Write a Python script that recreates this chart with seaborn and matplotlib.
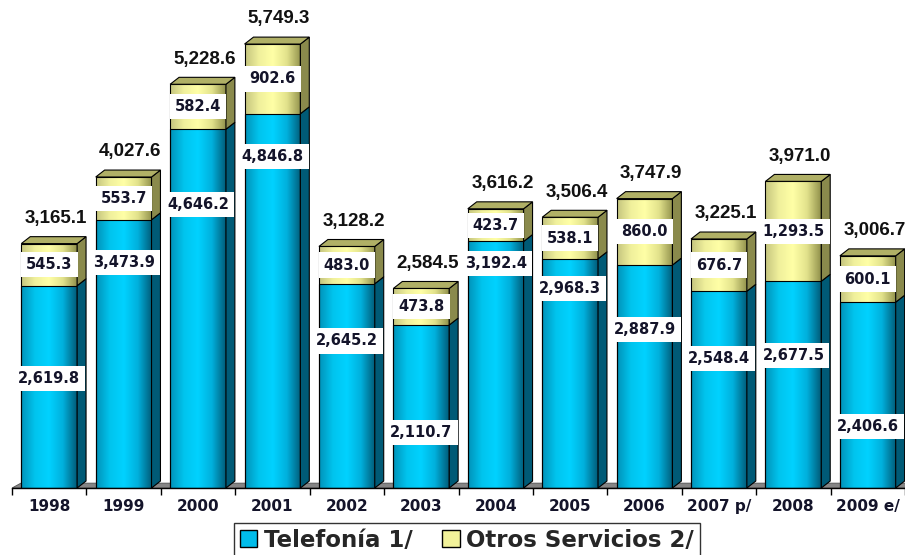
import matplotlib.pyplot as plt
import numpy as np
import pandas as pd
import seaborn as sns
from matplotlib.patches import Polygon, Patch
from matplotlib.colors import LinearSegmentedColormap

years = ['1998', '1999', '2000', '2001', '2002', '2003', '2004', '2005',
         '2006', '2007 p/', '2008', '2009 e/']
telefonia = [2619.8, 3473.9, 4646.2, 4846.8, 2645.2, 2110.7, 3192.4, 2968.3,
             2887.9, 2548.4, 2677.5, 2406.6]
otros = [545.3, 553.7, 582.4, 902.6, 483.0, 473.8, 423.7, 538.1,
         860.0, 676.7, 1293.5, 600.1]
totales = [3165.1, 4027.6, 5228.6, 5749.3, 3128.2, 2584.5, 3616.2, 3506.4,
           3747.9, 3225.1, 3971.0, 3006.7]
# height of the Telefonía label, as share of its segment (placed by hand in the original)
tele_label_pos = [0.54, 0.84, 0.79, 0.885, 0.72, 0.34, 0.91, 0.87, 0.71, 0.66, 0.64, 0.33]

sns.set_style("white")
plt.rcParams['font.family'] = ['DejaVu Sans']

df = pd.DataFrame({'year': years, 'tele': telefonia, 'otros': otros})
df['stack'] = df['tele'] + df['otros']

fig = plt.figure(figsize=(9.05, 5.55), dpi=100)
ax = fig.add_axes([12 / 905, 1 - 488 / 555, 1 - 12 / 905, 488 / 555])

yellow_face = '#f2f29a'
cyan_face = '#00c4f2'
sns.barplot(data=df, x='year', y='stack', color=yellow_face, saturation=1,
            width=0.75, ax=ax, edgecolor='black', linewidth=0.8, zorder=3)
sns.barplot(data=df, x='year', y='tele', color=cyan_face, saturation=1,
            width=0.75, ax=ax, edgecolor='black', linewidth=0.8, zorder=3)

DX, DY = 0.12, 90   # depth of the fake 3D boxes

cyan_cmap = LinearSegmentedColormap.from_list(
    'cy', ['#0092b8', '#00c4ee', '#00d2ff', '#00b0dc', '#005c7a'])
yel_cmap = LinearSegmentedColormap.from_list(
    'ye', ['#c4c47e', '#f0f09c', '#ffffa6', '#e2e28c', '#92924c'])
grad = np.linspace(0, 1, 256).reshape(1, -1)

n = len(years)
back = ax.patches[:n]
front = ax.patches[n:]
for i, (pb, pf) in enumerate(zip(back, front)):
    x0 = pf.get_x()
    x1 = x0 + pf.get_width()
    t = pf.get_height()
    s = pb.get_height()
    for p, cmap in ((pb, yel_cmap), (pf, cyan_cmap)):
        y0 = p.get_y()
        im = ax.imshow(grad, cmap=cmap, extent=(x0, x1, y0, y0 + p.get_height()),
                       aspect='auto', zorder=2.5)
        im.set_clip_path(p)
        p.set_facecolor('none')
    # side faces
    ax.add_patch(Polygon([(x1, 0), (x1 + DX, DY), (x1 + DX, t + DY), (x1, t)],
                         closed=True, fc='#005a76', ec='black', lw=0.8, zorder=3))
    ax.add_patch(Polygon([(x1, t), (x1 + DX, t + DY), (x1 + DX, s + DY), (x1, s)],
                         closed=True, fc='#8a8a4c', ec='black', lw=0.8, zorder=3))
    # top face
    ax.add_patch(Polygon([(x0, s), (x0 + DX, s + DY), (x1 + DX, s + DY), (x1, s)],
                         closed=True, fc='#b0b066', ec='black', lw=0.8, zorder=3))

# floor
ax.add_patch(Polygon([(-0.5, 0), (-0.5 + DX, DY * 0.7), (11.5 + DX, DY * 0.7), (11.5, 0)],
                     closed=True, fc='#858585', ec='#505050', lw=0.6, zorder=1))
ax.set_ylim(0, 6320)
ax.set_xlim(-0.5, 11.5)

box = dict(boxstyle='square,pad=0.35', fc='white', ec='none')
lab_kw = dict(ha='center', va='center', fontsize=10.5, fontweight='bold',
              color='#14142a', bbox=box, zorder=5)
for i in range(n):
    ax.text(i, telefonia[i] * tele_label_pos[i], f'{telefonia[i]:,.1f}', **lab_kw)
    ax.text(i, telefonia[i] + otros[i] / 2, f'{otros[i]:,.1f}', **lab_kw)
    ax.text(i + 0.09, totales[i] + 325, f'{totales[i]:,.1f}', ha='center', va='center',
            fontsize=13.5, fontweight='bold', family='Liberation Sans', color='#111111',
            zorder=5)

sns.despine(ax=ax, left=True)
ax.spines['bottom'].set_color('black')
ax.spines['bottom'].set_linewidth(1.0)
ax.set_yticks([])
ax.set_xticks(np.arange(-0.5, 12, 1), minor=True)
ax.tick_params(axis='x', which='minor', length=5, color='black', width=1, direction='out',
               bottom=True)
ax.tick_params(axis='x', which='major', length=0, pad=8)
ax.set_xticks(range(n))
ax.set_xticklabels(years, fontsize=11, fontweight='bold', color='#14142a')
ax.set_xlabel('')
ax.set_ylabel('')

handles = [Patch(fc='#00bcea', ec='black', lw=1.0, label='Telefonía 1/'),
           Patch(fc='#f2f29a', ec='black', lw=1.0, label='Otros Servicios 2/')]
leg = fig.legend(handles=handles, loc='upper center', bbox_to_anchor=(467 / 905, 1 - 523 / 555),
                 ncol=2, frameon=True, fancybox=False, edgecolor='black',
                 prop={'weight': 'bold', 'size': 16.5}, handlelength=0.75, handleheight=0.75,
                 handletextpad=0.3, columnspacing=1.3, borderpad=0.25, borderaxespad=0)
leg.get_frame().set_linewidth(1.0)

fig.savefig('out.png', dpi=100)
